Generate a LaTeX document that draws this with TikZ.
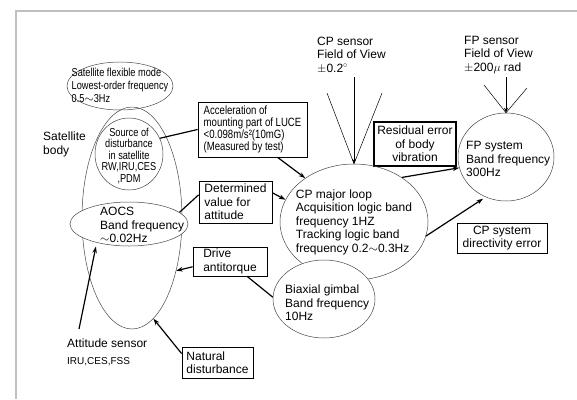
\documentclass[tikz,border=0pt]{standalone}
\usepackage{fontspec}
\setmainfont{Liberation Sans}
\newfontfamily\narrowfont[FakeStretch=0.8]{Liberation Sans}
\usetikzlibrary{positioning, arrows.meta, shapes.geometric}
\definecolor{framegray}{RGB}{192,192,192}
\definecolor{inkgray}{RGB}{70,70,70}

\tikzset{
  txt/.style={inner sep=0pt, align=left, font=\fontsize{12}{13.5}\selectfont},
  smalltxt/.style={inner sep=0pt, align=left, font=\narrowfont\fontsize{11.5}{13}\selectfont},
  blob/.style={draw=inkgray, ellipse, line width=0.5pt, inner sep=0pt},
  note/.style={draw, line width=0.8pt, fill=white, inner sep=0pt, align=left,
               font=\fontsize{12}{13.5}\selectfont},
  flow/.style={line width=1.2pt, -{Stealth[length=6.5pt,width=4.5pt]}},
  fov/.style={line width=0.5pt},
}

\begin{document}
\begin{tikzpicture}[x=1pt, y=-1pt]
  \useasboundingbox (0,0) rectangle (577,399);
  \draw[framegray, line width=1.6pt] (577,11) -- (16,11) -- (16,399);

  % satellite side
  \node[blob, minimum width=100pt, minimum height=222pt] (body) at (132,218) {};
  \node[blob, minimum width=106pt, minimum height=48pt] (flex) at (120,86) {};
  \node[blob, fill=white, minimum width=68pt, minimum height=72pt] (source) at (129,154) {};
  \node[blob, fill=white, minimum width=118pt, minimum height=44pt] (aocs) at (129,224) {};

  \node[smalltxt] (flextext) at (120,85)
       {Satellite flexible mode\\Lowest-order frequency\\0.5$\sim$3Hz};
  \node[smalltxt, align=center, font=\narrowfont\fontsize{11.5}{11.5}\selectfont]
       (sourcetext) at (129,156)
       {Source of\\disturbance\\in satellite\\RW,IRU,CES\\,PDM};
  \node[txt, anchor=west] (bodytext) at (43,144.5) {Satellite\\body};
  \node[txt, anchor=west] (aocstext) at (100,225)
       {AOCS\\Band frequency\\$\sim$0.02Hz};
  \node[txt, anchor=west] (att) at (67,343) {Attitude sensor};
  \node[txt, anchor=west, font=\fontsize{10}{11}\selectfont] (attlist) at (67,362)
       {IRU,CES,FSS};

  % boxes
  \node[note, font=\narrowfont\fontsize{12}{12}\selectfont,
        minimum width=109pt, minimum height=55pt] (accel) at (252.5,129.5)
       {Acceleration of\\mounting part of LUCE\\<0.098m/s²(10mG)\\(Measured by test)};
  \node[note, minimum width=73pt, minimum height=42pt] (det) at (235.5,202)
       {Determined\\value for\\attitude};
  \node[note, minimum width=74pt, minimum height=29pt] (drive) at (230,261.5)
       {Drive\\antitorque};
  \node[note, minimum width=71pt, minimum height=31pt] (nat) at (217.5,362.5)
       {Natural\\disturbance};
  \node[note, align=center, line width=1.1pt,
        minimum width=82pt, minimum height=44pt] (resid) at (415,144)
       {Residual error\\of body\\vibration};
  \node[note, align=center, minimum width=90pt, minimum height=30pt] (direc) at (502,238)
       {CP system\\directivity error};

  % payload side
  \node[blob, minimum width=148pt, minimum height=116pt] (cp) at (354,222) {};
  \node[blob, fill=white, minimum width=102pt, minimum height=78pt] (gimbal) at (324,299) {};
  \node[blob, minimum width=96pt, minimum height=88pt] (fp) at (506,157) {};

  \node[txt] (cptext) at (354,222)
       {CP major loop\\Acquisition logic band\\frequency 1HZ\\Tracking logic band\\frequency 0.2$\sim$0.3Hz};
  \node[txt, anchor=west] (gimbaltext) at (285,303)
       {Biaxial gimbal\\Band frequency\\10Hz};
  \node[txt, anchor=west] (fptext) at (466,159)
       {FP system\\Band frequency\\300Hz};

  \node[txt, anchor=west] (cpsens) at (317,55) {CP sensor\\Field of View\\$\pm$0.2$^\circ$};
  \node[txt, anchor=west] (fpsens) at (464,55) {FP sensor\\Field of View\\$\pm$200$\mu$ rad};

  % field of view lines
  \coordinate (cptop) at (354,77);
  \coordinate (cpleft) at (327,93);
  \coordinate (cpright) at (382,93);
  \coordinate (fptop) at (506,77);
  \coordinate (fpleft) at (484,85);
  \coordinate (fpright) at (527,88);
  \draw[fov, -{Stealth[length=5pt,width=4pt]}] (cptop) -- (cp.north);
  \draw[fov] (cpleft) -- (cp.north) -- (cpright);
  \draw[fov, -{Stealth[length=5pt,width=4pt]}] (fptop) -- (fp.north);
  \draw[fov] (fpleft) -- (fp.north) -- (fpright);

  % connectors
  \coordinate (attfoot) at (79,329);
  \draw[line width=1.2pt] (source.27) -- (accel.west);
  \draw[flow] (accel.-48) -- (cp.138);
  \draw[line width=1.2pt] (aocs.13) -- (det.169);
  \draw[flow] (det.14) -- (cp.162);
  \draw[flow] (drive.188) -- (body.-50);
  \draw[line width=1.2pt] (drive.-41) -- (gimbal.178);
  \draw[flow] (nat.166) -- (body.-78);
  \draw[flow, shorten >=4pt] (attfoot) -- (aocs.210);
  \draw[flow] (cp.43) -- (fp.193);
  \draw[flow, shorten >=3pt] (cp.-11) -- (fp.243);
\end{tikzpicture}
\end{document}
